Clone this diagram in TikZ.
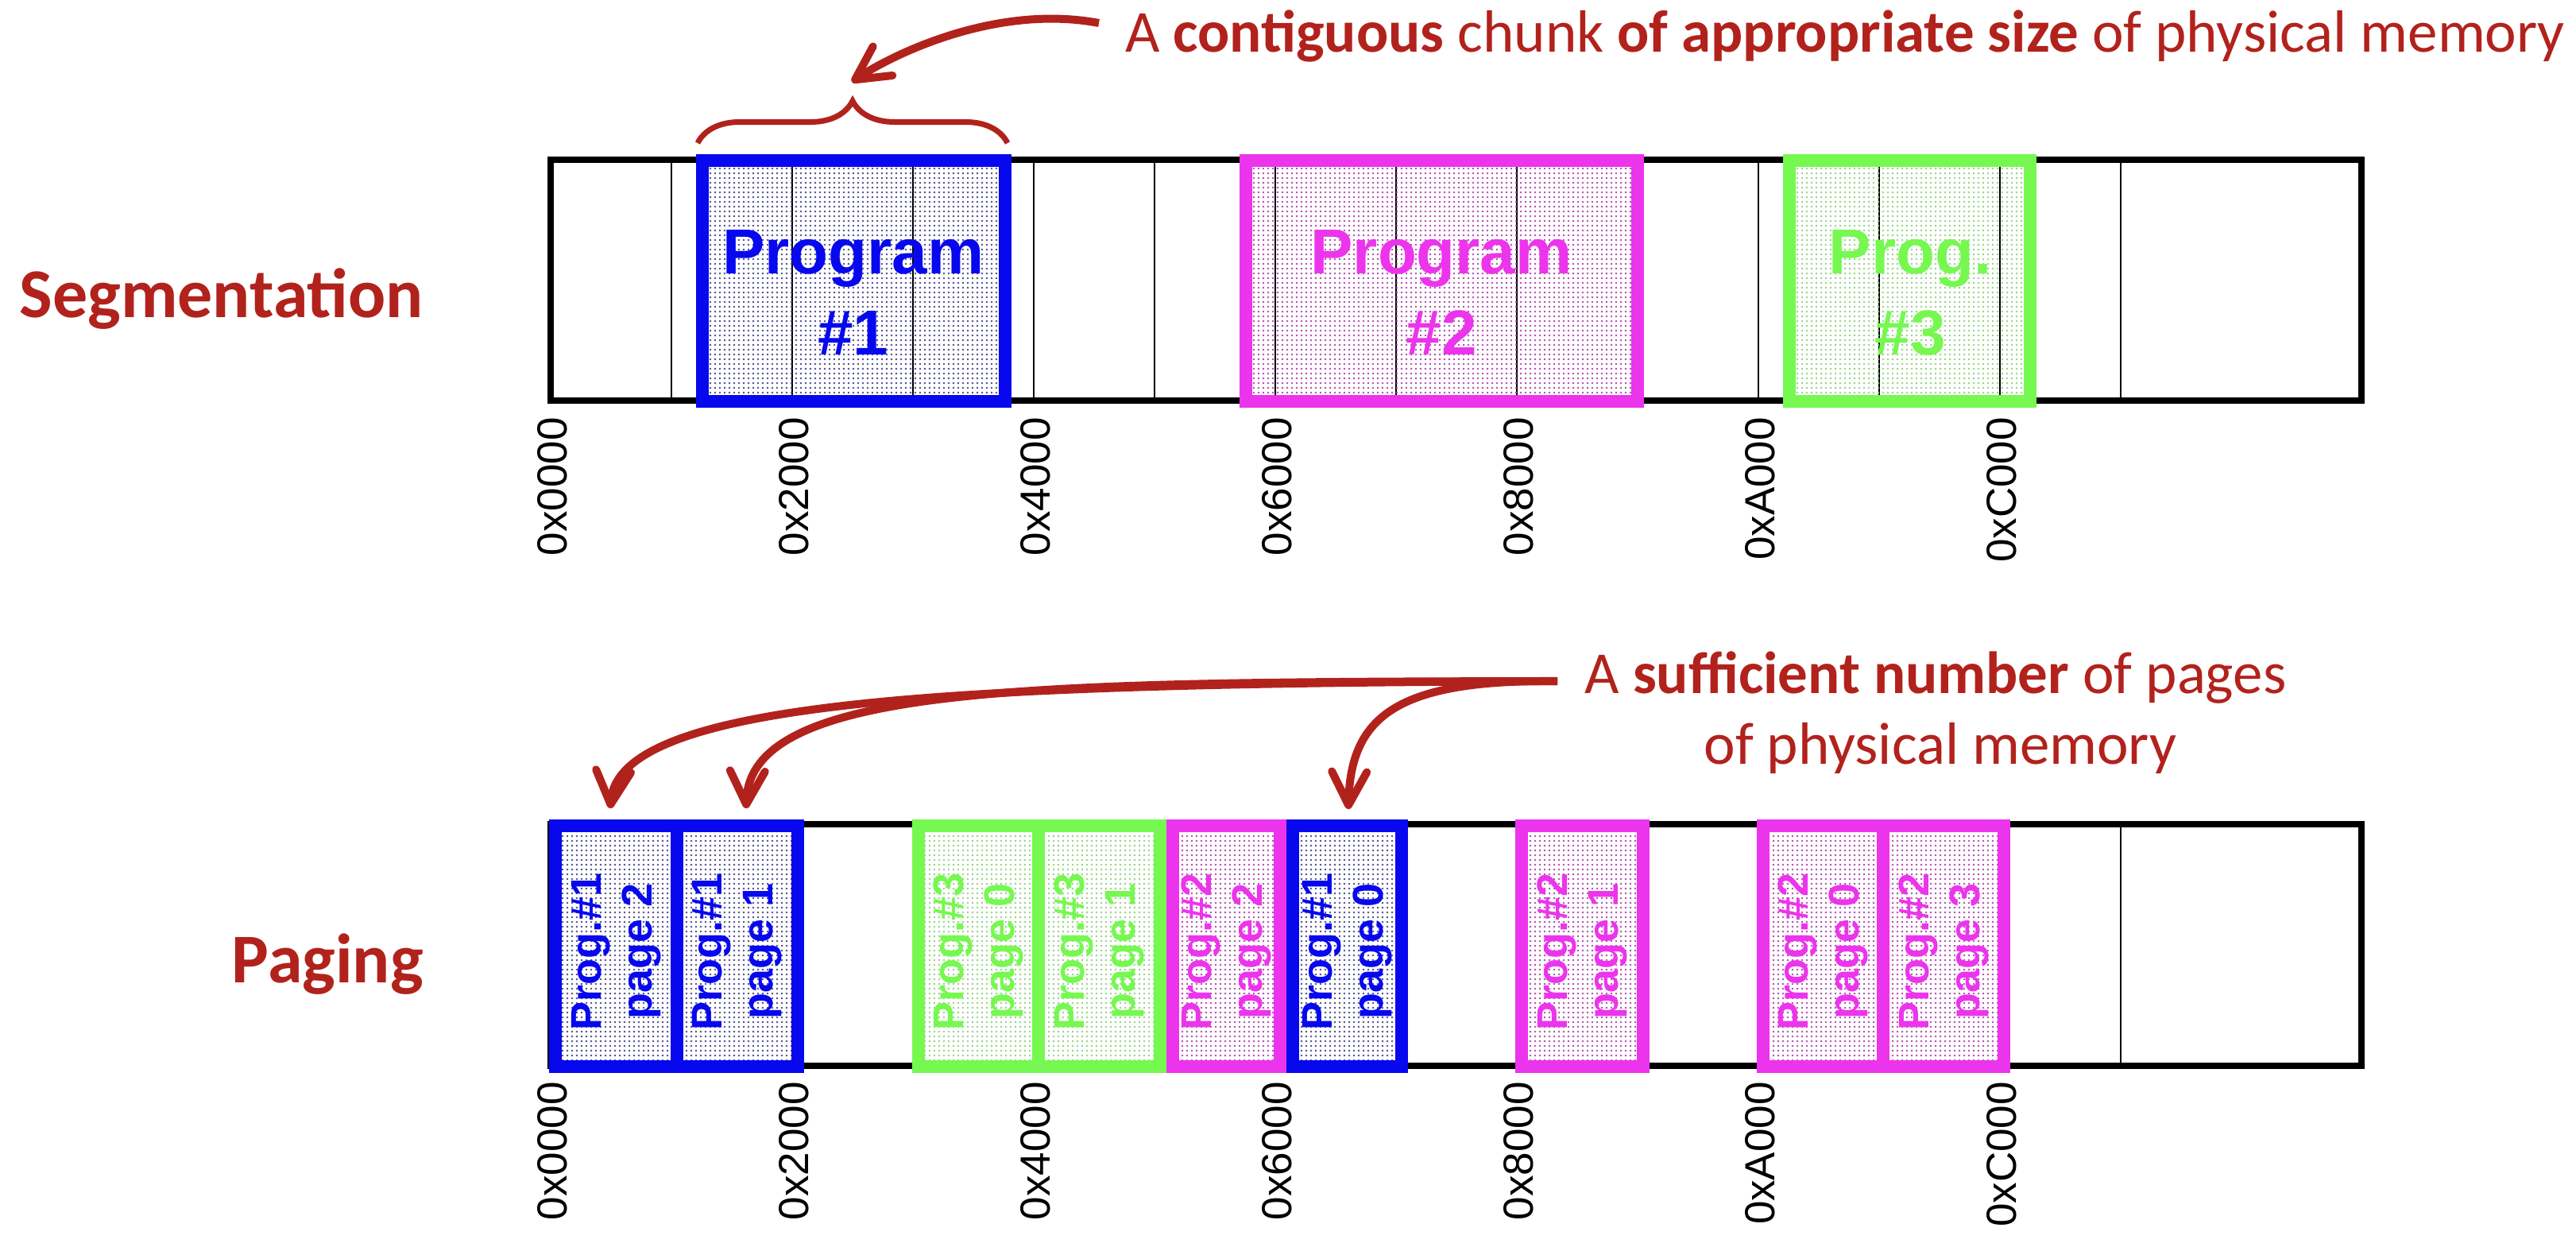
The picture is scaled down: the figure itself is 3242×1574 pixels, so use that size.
\documentclass[tikz,border=0pt]{standalone}
\usepackage{fontspec}
\setmainfont{Carlito}
\newfontfamily\arialfont{Liberation Sans}
\usetikzlibrary{arrows.meta,decorations.pathreplacing,patterns.meta}
\definecolor{dred}{RGB}{178,34,28}
\definecolor{pblue}{RGB}{8,8,238}
\definecolor{pmag}{RGB}{236,52,236}
\definecolor{pgreen}{RGB}{118,248,80}
\definecolor{dotblue}{RGB}{75,75,145}
\definecolor{dotmag}{RGB}{175,75,175}
\definecolor{dotgreen}{RGB}{145,212,125}
\tikzset{
  membar/.style={draw=black, line width=8pt, fill=white},
  divline/.style={draw=black, line width=2.5pt},
  cbox/.style={line width=16pt},
  bluebox/.style={cbox, draw=pblue, pattern={Dots[distance=6pt,radius=1.35pt]}, pattern color=dotblue},
  magbox/.style={cbox, draw=pmag, pattern={Dots[distance=6pt,radius=1.35pt]}, pattern color=dotmag},
  greenbox/.style={cbox, draw=pgreen, pattern={Dots[distance=6pt,radius=1.35pt]}, pattern color=dotgreen},
  segtxt/.style={font=\arialfont\bfseries\fontsize{80}{102}\selectfont, align=center, inner sep=0pt},
  pagetxt/.style={font=\arialfont\bfseries\fontsize{54}{64}\selectfont, align=center, inner sep=0pt, rotate=90},
  axlab/.style={font=\arialfont\fontsize{53}{60}\selectfont, rotate=90, anchor=east, inner sep=0pt},
  rowlab/.style={font=\bfseries\fontsize{88}{100}\selectfont, text=dred, anchor=base east, inner sep=0pt},
  note/.style={font=\fontsize{75}{90}\selectfont, text=dred, inner sep=0pt},
  redarrow/.style={draw=dred, line width=10pt, -{Straight Barb[length=42pt,width=44pt,round]}},
  redbrace/.style={draw=dred, line width=7pt, decorate, decoration={brace, amplitude=53pt}},
}
\begin{document}
\begin{tikzpicture}[x=1pt,y=-1pt]
\useasboundingbox (0,0) rectangle (3242,1574);
\fill[white] (0,0) rectangle (3242,1574);

% ---------- row labels ----------
\node[rowlab] (seglab) at (533,399) {Segmentation};
\node[rowlab] (paglab) at (533,1236) {Paging};

% ---------- segmentation memory bar ----------
\draw[membar] (693,201) rectangle (2972,504);
\foreach \k in {1,...,13} \draw[divline] ({693+152*\k},201) -- ({693+152*\k},504);
\draw[bluebox]  (884,202) rectangle (1265,505);
\draw[magbox]   (1568,202) rectangle (2061,505);
\draw[greenbox] (2252,202) rectangle (2555,505);
\node[segtxt, text=pblue]  (s1) at (1074,368) {Program\\\#1};
\node[segtxt, text=pmag]   (s2) at (1814,368) {Program\\\#2};
\node[segtxt, text=pgreen] (s3) at (2404,368) {Prog.\\\#3};
\foreach \k/\t in {0/0x0000,2/0x2000,4/0x4000,6/0x6000,8/0x8000,10/0xA000,12/0xC000}
  \node[axlab] (sa\k) at ({695+152*\k},525) {\t};

% ---------- paging memory bar ----------
\draw[membar] (693,1037) rectangle (2972,1341);
\foreach \k in {1,...,13} \draw[divline] ({693+152*\k},1037) -- ({693+152*\k},1341);
\draw[bluebox]  (699,1039) rectangle (852,1342);
\draw[bluebox]  (852,1039) rectangle (1004,1342);
\draw[greenbox] (1156,1039) rectangle (1307,1342);
\draw[greenbox] (1307,1039) rectangle (1460,1342);
\draw[magbox]   (1476,1039) rectangle (1611,1342);
\draw[bluebox]  (1627,1039) rectangle (1764,1342);
\draw[magbox]   (1915,1039) rectangle (2068,1342);
\draw[magbox]   (2219,1039) rectangle (2370,1342);
\draw[magbox]   (2370,1039) rectangle (2522,1342);
\node[pagetxt, text=pblue]  (q1) at (775.5,1197) {Prog.\#1\\page 2};
\node[pagetxt, text=pblue]  (q2) at (928,1197)   {Prog.\#1\\page 1};
\node[pagetxt, text=pgreen] (q3) at (1231.5,1197) {Prog.\#3\\page 0};
\node[pagetxt, text=pgreen] (q4) at (1383.5,1197) {Prog.\#3\\page 1};
\node[pagetxt, text=pmag]   (q5) at (1543.5,1197) {Prog.\#2\\page 2};
\node[pagetxt, text=pblue]  (q6) at (1695.5,1197) {Prog.\#1\\page 0};
\node[pagetxt, text=pmag]   (q7) at (1991.5,1197) {Prog.\#2\\page 1};
\node[pagetxt, text=pmag]   (q8) at (2294.5,1197) {Prog.\#2\\page 0};
\node[pagetxt, text=pmag]   (q9) at (2446,1197)   {Prog.\#2\\page 3};
\foreach \k/\t in {0/0x0000,2/0x2000,4/0x4000,6/0x6000,8/0x8000,10/0xA000,12/0xC000}
  \node[axlab] (pa\k) at ({695+152*\k},1361) {\t};

% ---------- annotations ----------
\node[note, anchor=base west] (topnote) at (1416,65)
  {A \textbf{contiguous} chunk \textbf{of appropriate size} of physical memory};
\node[note, anchor=base] (pn1) at (2436,872) {A \textbf{sufficient number} of pages};
\node[note, anchor=base] (pn2) at (2442,961) {of physical memory};

\draw[redbrace] (878,180) -- (1268,180);

\coordinate (segsrc) at (1383,29);
\coordinate (segtip) at (1072,103);
\coordinate (pgsrc) at (1960,857);
\coordinate (t1) at (768,1017);
\coordinate (t2) at (939,1017);
\coordinate (t3) at (1697,1018);

\draw[redarrow] (segsrc) .. controls (1250,4) and (1118,72) .. (segtip);
\draw[redarrow] (pgsrc) .. controls (1200,860) and (780,880) .. (t1);
\draw[redarrow] (pgsrc) .. controls (1300,858) and (945,860) .. (t2);
\draw[redarrow] (pgsrc) .. controls (1760,855) and (1700,900) .. (t3);
\end{tikzpicture}
\end{document}
